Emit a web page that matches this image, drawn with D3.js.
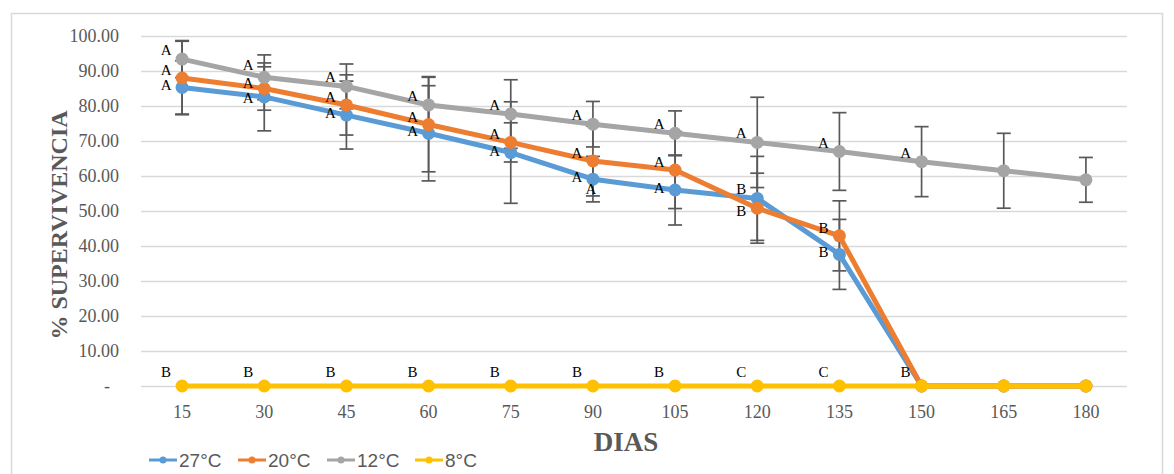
<!DOCTYPE html>
<html>
<head>
<meta charset="utf-8">
<script src="https://cdn.jsdelivr.net/npm/d3@7"></script>
<style>
  body { margin: 0; background: #fff; }
  svg { display: block; }
</style>
</head>
<body>
<svg id="chart" width="1174" height="474"></svg>
<script>
// data
var days = ["15", "30", "45", "60", "75", "90", "105", "120", "135", "150", "165", "180"];
var yTicks = [0, 10, 20, 30, 40, 50, 60, 70, 80, 90, 100];

var names = ["27°C", "20°C", "12°C", "8°C"];
var colors = ["#5b9bd5", "#ed7d31", "#a5a5a5", "#ffc000"];

var v27 = [85.3, 82.6, 77.4, 72.2, 66.7, 59.1, 56.0, 53.6, 37.6, 0, 0, 0];
var v20 = [88.0, 85.0, 80.3, 74.7, 69.6, 64.3, 61.7, 50.8, 42.9, 0, 0, 0];
var v12 = [93.4, 88.2, 85.6, 80.3, 77.7, 74.8, 72.2, 69.6, 67.0, 64.1, 61.5, 58.9];
var v8  = [0, 0, 0, 0, 0, 0, 0, 0, 0, 0, 0, 0];

var e27 = [7.6, 9.7, 9.7, 13.6, 14.5, 6.5, 10.0, 12.0, 10.0, 0, 0, 0];
var e20 = [10.5, 6.2, 8.6, 13.5, 5.6, 10.0, 11.0, 10.0, 10.0, 0, 0, 0];
var e12 = [5.3, 6.4, 6.4, 8.1, 9.8, 6.5, 6.4, 12.9, 11.1, 10.0, 10.7, 6.4];
var e8  = [0, 0, 0, 0, 0, 0, 0, 0, 0, 0, 0, 0];

var l27 = ["A", "A", "A", "A", "A", "A", "A", "B", "B", "", "", ""];
var l20 = ["A", "A", "A", "A", "A", "A", "A", "B", "B", "", "", ""];
var l12 = ["A", "A", "A", "A", "A", "A", "A", "A", "A", "A", "", ""];
var l8  = ["B", "B", "B", "B", "B", "B", "B", "C", "C", "B", "", ""];

// stray duplicate letter next to the 27°C point at day 90
var extraLabels = [{day: "90", value: 59.1, text: "A"}];

var values = [v27, v20, v12, v8];
var errors = [e27, e20, e12, e8];
var letters = [l27, l20, l12, l8];
var labelDy = [3, -3, -4, -9];
// a few letters sit off the usual spot in the original
var labelFix = {"0-120": -4, "1-120": 8, "2-30": -7, "1-30": -1, "0-30": 6};

var svg = d3.select("#chart");
var serif = "'Liberation Serif', 'Times New Roman', serif";

// outer border
svg.append("rect")
   .attr("x", 11.5).attr("y", 13.5)
   .attr("width", 1151).attr("height", 470)
   .attr("fill", "none")
   .attr("stroke", "#d9d9d9")
   .attr("stroke-width", 1.5);

var xScale = d3.scaleBand()
               .domain(days)
               .range([141, 1127])
               .padding(0);

var yScale = d3.scaleLinear()
               .domain([0, 100])
               .range([386, 36]);

var cx = function(d) { return xScale(d) + xScale.bandwidth() / 2; };

// gridlines
svg.append("g")
   .attr("class", "grid")
   .attr("transform", "translate(141,0)")
   .call(d3.axisLeft(yScale).tickValues(yTicks).tickSize(-986).tickFormat(""))
   .call(function(g) {
       g.select(".domain").remove();
       g.selectAll("line").attr("stroke", "#d9d9d9").attr("stroke-width", 1.5);
   });

// y axis labels
svg.append("g")
   .attr("transform", "translate(141,0)")
   .call(d3.axisLeft(yScale).tickValues(yTicks).tickSize(0).tickPadding(22)
           .tickFormat(function(d) { return d == 0 ? "-" : d3.format(".2f")(d); }))
   .call(function(g) {
       g.select(".domain").remove();
       g.selectAll("text")
        .attr("fill", "#595959")
        .style("font-family", serif)
        .style("font-size", "18px");
       g.selectAll(".tick").filter(function(d) { return d == 0; })
        .select("text").attr("x", -31);
   });

// x axis labels
svg.append("g")
   .attr("transform", "translate(0,386)")
   .call(d3.axisBottom(xScale).tickSize(0).tickPadding(19))
   .call(function(g) {
       g.select(".domain").remove();
       g.selectAll("text")
        .attr("fill", "#595959")
        .style("font-family", serif)
        .style("font-size", "18px");
   });

// axis titles
svg.append("text")
   .attr("x", 626).attr("y", 451)
   .attr("text-anchor", "middle")
   .attr("fill", "#595959")
   .style("font-family", serif)
   .style("font-weight", "bold")
   .style("font-size", "27px")
   .text("DIAS");

svg.append("text")
   .attr("transform", "translate(67,225) rotate(-90)")
   .attr("text-anchor", "middle")
   .attr("fill", "#595959")
   .style("font-family", serif)
   .style("font-weight", "bold")
   .style("font-size", "24px")
   .text("% SUPERVIVENCIA");

// error bars behind everything
var errG = svg.append("g");
values.forEach(function(vals, s) {
    vals.forEach(function(v, i) {
        var e = errors[s][i];
        if (!e) return;
        var x = cx(days[i]);
        var y1 = yScale(v + e), y2 = yScale(v - e);
        errG.append("line").attr("x1", x).attr("x2", x).attr("y1", y1).attr("y2", y2);
        errG.append("line").attr("x1", x - 7).attr("x2", x + 7).attr("y1", y1).attr("y2", y1);
        errG.append("line").attr("x1", x - 7).attr("x2", x + 7).attr("y1", y2).attr("y2", y2);
    });
});
errG.selectAll("line").attr("stroke", "#595959").attr("stroke-width", 1.7);

// series
var line = d3.line()
             .x(function(d) { return cx(d.day); })
             .y(function(d) { return yScale(d.value); });

values.forEach(function(vals, s) {
    var pts = vals.map(function(v, i) { return {day: days[i], value: v}; });
    var g = svg.append("g");
    g.append("path")
     .datum(pts)
     .attr("fill", "none")
     .attr("stroke", colors[s])
     .attr("stroke-width", 5)
     .attr("stroke-linejoin", "round")
     .attr("d", line);
    g.selectAll("circle")
     .data(pts)
     .enter()
     .append("circle")
     .attr("cx", function(d) { return cx(d.day); })
     .attr("cy", function(d) { return yScale(d.value); })
     .attr("r", 6.5)
     .attr("fill", colors[s]);
});

// letter labels
var labG = svg.append("g")
              .style("font-family", serif)
              .style("font-size", "15px")
              .attr("fill", "#000")
              .attr("text-anchor", "middle");

letters.forEach(function(ls, s) {
    ls.forEach(function(t, i) {
        if (!t) return;
        var key = s + "-" + days[i];
        var dy = (key in labelFix) ? labelFix[key] : labelDy[s];
        labG.append("text")
            .attr("x", cx(days[i]) - 16)
            .attr("y", yScale(values[s][i]) + dy)
            .text(t);
    });
});

extraLabels.forEach(function(d) {
    labG.append("text")
        .attr("x", cx(d.day) - 2)
        .attr("y", yScale(d.value) + 15)
        .text(d.text);
});

// legend
var legendX = [149, 238, 327, 415];
var leg = svg.append("g").attr("transform", "translate(0,460)");
names.forEach(function(n, s) {
    var item = leg.append("g").attr("transform", "translate(" + legendX[s] + ",0)");
    item.append("line")
        .attr("x1", 0).attr("x2", 28).attr("y1", 0).attr("y2", 0)
        .attr("stroke", colors[s]).attr("stroke-width", 3);
    item.append("circle")
        .attr("cx", 14).attr("cy", 0).attr("r", 3.5)
        .attr("fill", colors[s]);
    item.append("text")
        .attr("x", 30).attr("y", 7)
        .attr("fill", "#595959")
        .style("font-family", "'Liberation Sans', Arial, sans-serif")
        .style("font-size", "19px")
        .text(n);
});
</script>
</body>
</html>
